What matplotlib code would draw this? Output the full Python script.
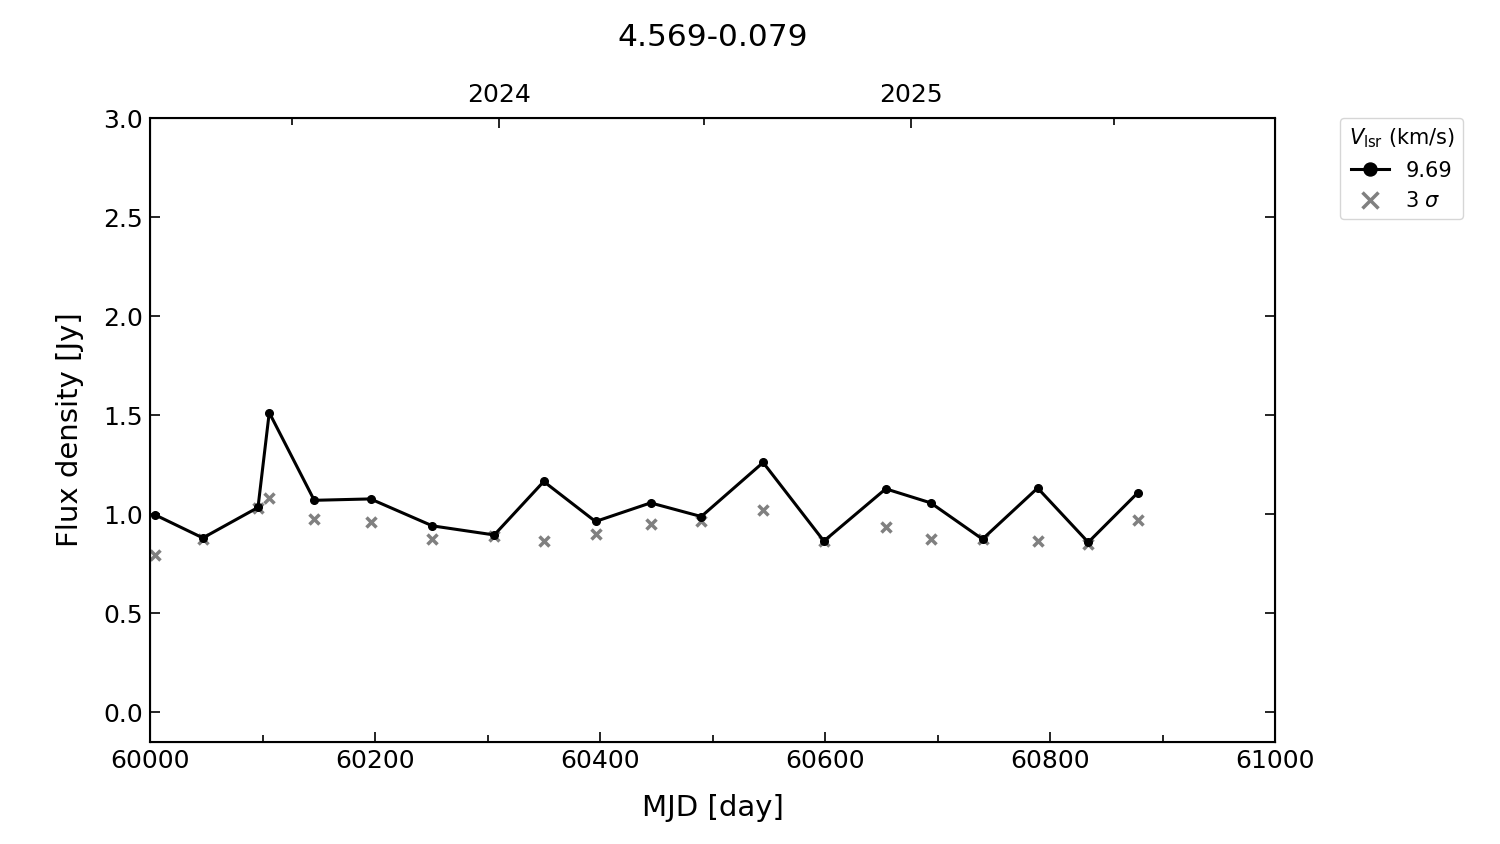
import datetime as dt

import matplotlib
matplotlib.use("Agg")
import matplotlib.pyplot as plt
from matplotlib.ticker import MultipleLocator, FixedLocator

# Data
mjd = [60004, 60047, 60096, 60106, 60146, 60196, 60251, 60306, 60350, 60396,
       60445, 60490, 60545, 60599, 60654, 60694, 60740, 60789, 60834, 60878]
flux = [0.998, 0.880, 1.034, 1.513, 1.070, 1.077, 0.941, 0.895, 1.165, 0.963,
        1.057, 0.988, 1.261, 0.864, 1.128, 1.057, 0.874, 1.132, 0.858, 1.108]
sigma3 = [0.792, 0.875, 1.032, 1.080, 0.978, 0.958, 0.876, 0.889, 0.866, 0.900,
          0.951, 0.965, 1.023, 0.862, 0.936, 0.876, 0.876, 0.862, 0.847, 0.972]

source = "4.569-0.079"
vlsr = "9.69"
years = [2024, 2025]

MJD0 = dt.datetime(1858, 11, 17)


def date_to_mjd(d):
    return (d - MJD0).total_seconds() / 86400.0


plt.rcParams["font.family"] = "DejaVu Sans"

fig = plt.figure(figsize=(15, 8.44), dpi=100)
ax = fig.add_axes([0.1, 0.121, 0.75, 0.739])

ax.plot(mjd, flux, "-o", color="black", lw=2.2, ms=5.5, label=vlsr, zorder=3)
ax.plot(mjd, sigma3, "x", color="gray", ms=7, mew=2.5, ls="none",
        label=r"3 $\sigma$", zorder=2)

ax.set_xlim(60000, 61000)
ax.set_ylim(-0.15, 3.0)
ax.xaxis.set_major_locator(MultipleLocator(200))
ax.xaxis.set_minor_locator(MultipleLocator(100))
ax.yaxis.set_major_locator(MultipleLocator(0.5))
ax.tick_params(which="both", direction="in", labelsize=18, right=True,
               width=1.2, pad=5)
ax.tick_params(which="major", length=7)
ax.tick_params(which="minor", length=5)
for sp in ax.spines.values():
    sp.set_linewidth(1.5)

ax.set_xlabel("MJD [day]", fontsize=21, labelpad=15)
ax.set_ylabel("Flux density [Jy]", fontsize=21, labelpad=14)

# top axis in calendar years
top = ax.twiny()
top.set_xlim(ax.get_xlim())
top.xaxis.set_major_locator(FixedLocator(
    [date_to_mjd(dt.datetime(y, 1, 1)) for y in years]))
top.set_xticklabels([str(y) for y in years])
top.xaxis.set_minor_locator(FixedLocator(
    [date_to_mjd(dt.datetime(y, 7, 1)) for y in [years[0] - 1] + years]))
top.tick_params(which="both", direction="in", labelsize=18, width=1.2, pad=8)
top.tick_params(which="major", length=7)
top.tick_params(which="minor", length=5)

top.set_title(source, fontsize=22.5, pad=52)

leg = ax.legend(title=r"$V_\mathrm{lsr}$ (km/s)", loc="upper left",
                bbox_to_anchor=(1.058, 1.0), fontsize=15, title_fontsize=15,
                handlelength=1.8, markerscale=1.7, borderaxespad=0.0)

fig.savefig("out.png", dpi=100)
